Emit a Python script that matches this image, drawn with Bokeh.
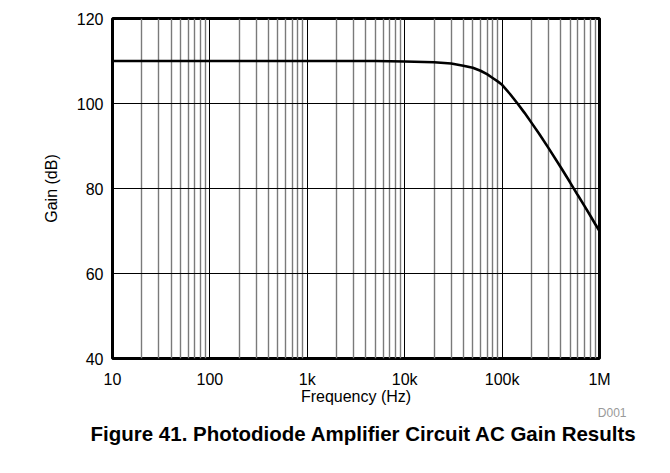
from bokeh.plotting import figure
from bokeh.models import FixedTicker, Title
from bokeh.embed import file_html
from bokeh.resources import INLINE

# ---- data ----
freq_hz = [10, 100, 1000, 5000, 10000, 20000, 30000, 40000, 50000, 60000, 70000,
           80000, 90000, 100000, 120000, 144000, 170000, 200000, 240000, 300000,
           400000, 500000, 600000, 700000, 800000, 900000, 1000000]
gain_db = [110.0, 110.0, 110.0, 110.0, 109.9, 109.7, 109.4, 108.9, 108.4, 107.7, 106.9,
           106.0, 105.2, 104.4, 102.3, 100.0, 97.8, 95.5, 92.9, 89.5,
           85.0, 81.4, 78.4, 75.9, 73.7, 71.7, 70.0]

x_ticks = [10, 100, 1000, 10000, 100000, 1000000]
x_tick_labels = ["10", "100", "1k", "10k", "100k", "1M"]
y_ticks = [40, 60, 80, 100, 120]
x_label = "Frequency (Hz)"
y_label = "Gain (dB)"
title_text = "Figure 41. Photodiode Amplifier Circuit AC Gain Results"
code_text = "D001"

FONT = "Liberation Sans"
W, H = 654, 457

p = figure(width=W, height=H, x_axis_type="log", x_range=(10, 1e6), y_range=(40, 120),
           output_backend="svg", toolbar_location=None,
           min_border_left=112, min_border_right=55, min_border_top=18, min_border_bottom=99)

minor = [m * d for d in x_ticks[:-1] for m in range(2, 10)]
p.xaxis.ticker = FixedTicker(ticks=x_ticks, minor_ticks=minor)
p.xaxis.major_label_overrides = {t: l for t, l in zip(x_ticks, x_tick_labels)}
p.yaxis.ticker = FixedTicker(ticks=y_ticks)

for ax in (p.xaxis, p.yaxis):
    ax.axis_line_color = None
    ax.major_tick_line_color = None
    ax.minor_tick_line_color = None
    ax.major_tick_out = 0
    ax.major_tick_in = 0
    ax.minor_tick_out = 0
    ax.minor_tick_in = 0
    ax.major_label_text_font = FONT
    ax.major_label_text_font_size = "16px"
    ax.major_label_text_color = "black"
    ax.axis_label_text_font = FONT
    ax.axis_label_text_font_size = "16px"
    ax.axis_label_text_font_style = "normal"
    ax.axis_label_text_color = "black"

p.xaxis.axis_label = x_label
p.yaxis.axis_label = y_label
p.xaxis.major_label_standoff = 12
p.yaxis.major_label_standoff = 9
p.xaxis.axis_label_standoff = -3
p.yaxis.axis_label_standoff = 14

p.xgrid.grid_line_color = "black"
p.xgrid.grid_line_width = 1
p.xgrid.minor_grid_line_color = "#7a7a7a"
p.xgrid.minor_grid_line_width = 1.4
p.ygrid.grid_line_color = "black"
p.ygrid.grid_line_width = 1

p.outline_line_color = "black"
p.outline_line_width = 3
p.background_fill_color = "white"
p.border_fill_color = "white"

p.line(freq_hz, gain_db, line_color="black", line_width=2.6)

p.add_layout(Title(text=code_text, align="right", offset=-27, standoff=-4,
                   vertical_align="top",
                   text_font=FONT, text_font_size="12px", text_font_style="normal",
                   text_color="#999999"), "below")
p.add_layout(Title(text=title_text, align="left", offset=-22, standoff=5,
                   vertical_align="top",
                   text_font=FONT, text_font_size="20.5px", text_font_style="bold",
                   text_color="black"), "below")

open("out.html", "w").write(file_html(p, INLINE))
